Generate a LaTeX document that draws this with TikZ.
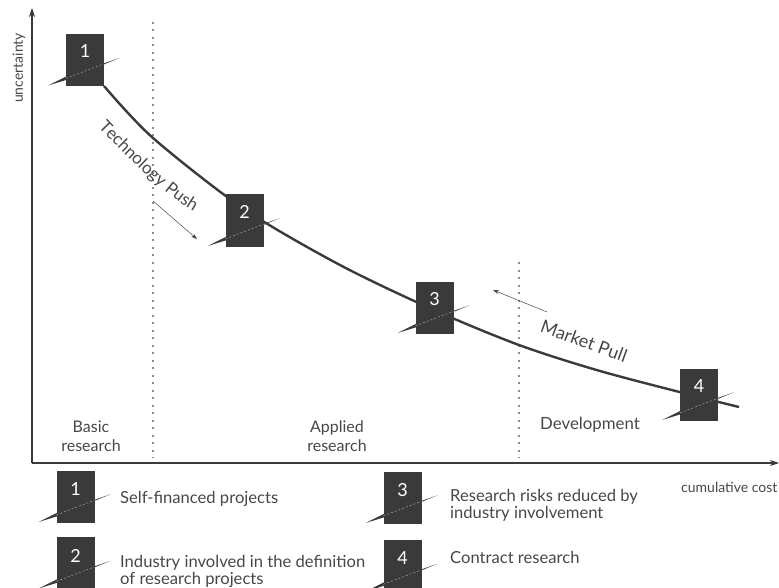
\documentclass[tikz,border=0pt]{standalone}
\usepackage{fontspec}
\setmainfont{Lato}
\usetikzlibrary{arrows.meta,positioning,calc,decorations.text}
\definecolor{ink}{HTML}{3A3A3A}
\definecolor{txt}{HTML}{474747}
\definecolor{dots}{HTML}{8C8C8C}

\begin{document}
\begin{tikzpicture}[x=1pt, y=-1pt,
  stagebox/.style={fill=ink, minimum width=38pt, minimum height=52pt, inner sep=0pt},
  num/.style={text=white, font=\fontsize{18}{18}\selectfont, inner sep=0pt},
  curve/.style={draw=ink, line width=2.4pt},
  axis/.style={draw=ink, line width=1.1pt, -{Stealth[length=9pt,width=6pt]}},
  phase/.style={draw=dots, line width=2pt, dash pattern=on 2pt off 5.5pt},
  force/.style={draw=txt, line width=0.5pt, -{Stealth[length=6pt,width=4pt]}},
  lbl/.style={text=txt, font=\fontsize{16}{18.5}\selectfont, align=center, inner sep=0pt},
  legend/.style={text=txt, font=\fontsize{16.6}{17}\selectfont, align=left, inner sep=0pt, anchor=west},
  small/.style={text=txt, font=\fontsize{14}{15}\selectfont, inner sep=0pt}
]
\useasboundingbox (0,0) rectangle (779,588);
% axes and phase borders
\coordinate (o) at (32,463);
\coordinate (ytop) at (32,8);
\coordinate (xend) at (779,463);
\draw[axis] (o) -- (ytop);
\draw[axis] (o) -- (xend);
\coordinate (p1a) at (153,22);
\coordinate (p1b) at (153,458);
\coordinate (p2a) at (519,262);
\coordinate (p2b) at (519,458);
\draw[phase] (p1a) -- (p1b);
\draw[phase] (p2a) -- (p2b);
\node[small, rotate=90] (unc) at (19,68) {uncertainty};
\node[small, anchor=west] (cost) at (681,487) {cumulative cost};
% the curve
\draw[curve] plot[smooth, tension=0.5] coordinates {(104,86) (153,138) (244,209) (340,265)
  (434,310) (519,345) (600,371) (699,397) (739,407)};
% stages on the curve
\node[stagebox] (b1) at (85,60) {};
\node[stagebox] (b2) at (244.5,220.5) {};
\node[stagebox] (b3) at (434.5,307.5) {};
\node[stagebox] (b4) at (699,394.5) {};
% legend
\node[stagebox] (l1) at (75.5,496.5) {};
\node[stagebox] (l2) at (75.5,563) {};
\node[stagebox] (l3) at (402.5,497.5) {};
\node[stagebox] (l4) at (402.5,566) {};
\foreach \b in {b1,b2,b3,b4,l1,l2,l3,l4} {
  \fill[ink] ($(\b)+(-37,25.5)$) -- ($(\b)+(-19,16.6)$) -- ($(\b)+(35,-2.2)$) -- ($(\b)+(-19,20)$) -- cycle;
  \draw[dots!80, line width=0.5pt, dash pattern=on 2pt off 2pt] ($(\b)+(-19,18.3)$) -- ($(\b)+(19,3.8)$);
}
\node[num, below=11pt of b1.north] (n1) {1};
\node[num, below=11pt of b2.north] (n2) {2};
\node[num, below=11pt of b3.north] (n3) {3};
\node[num, below=11pt of b4.north] (n4) {4};
\node[num, below=12pt of l1.north] (m1) {1};
\node[num, below=12pt of l2.north] (m2) {2};
\node[num, below=12pt of l3.north] (m3) {3};
\node[num, below=12pt of l4.north] (m4) {4};
\node[legend] (t1) at (120,499) {Self-financed projects};
\node[legend] (t2) at (120,571) {Industry involved in the definition\\of research projects};
\node[legend] (t3) at (450,505) {Research risks reduced by\\industry involvement};
\node[legend] (t4) at (450,557) {Contract research};
% forces and phases
\path[decorate, decoration={text along path, text align=center, text color=txt,
  text={|\fontsize{17}{17}\selectfont|Technology Push}}]
  (97,126) .. controls (129,159) and (165,195) .. (195,212);
\node[lbl, font=\fontsize{18}{18}\selectfont, rotate=-20] (pull) at (584,341) {Market Pull};
\coordinate (tp0) at (153,201);
\coordinate (tp1) at (197,239);
\coordinate (mp0) at (547,312);
\coordinate (mp1) at (493,290);
\draw[force] (tp0) -- (tp1);
\draw[force] (mp0) -- (mp1);
\node[lbl] (basic) at (91,436) {Basic\\research};
\node[lbl] (applied) at (337,436) {Applied\\research};
\node[lbl, font=\fontsize{16.8}{18}\selectfont] (devel) at (590,425) {Development};
\end{tikzpicture}
\end{document}
